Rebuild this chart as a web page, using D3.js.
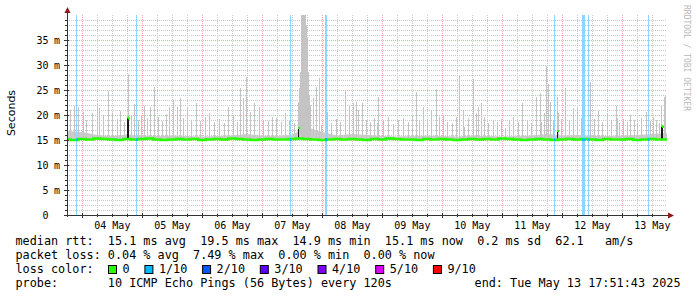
<!DOCTYPE html>
<html lang="en">
<head>
  <meta charset="utf-8">
  <title>smokeping</title>
  <script src="https://cdn.jsdelivr.net/npm/d3@7"></script>
  <style>
    body { margin: 0; background: #fff; }
    svg { display: block; }
    .mono { font-family: "DejaVu Sans Mono", monospace; }
  </style>
</head>
<body>
<svg id="chart" width="697" height="297"></svg>
<script>
  // window: 10 days ending Tue May 13 17:51:43 2025
  const startTime = new Date(2025, 4, 3, 17, 51, 43);
  const endTime = new Date(2025, 4, 13, 17, 51, 43);

  // y ticks (ms) and their labels
  const yTicks = [0, 5, 10, 15, 20, 25, 30, 35];
  const yUnits = ["", "m", "m", "m", "m", "m", "m", "m"];
  // day labels on the x axis (placed at noon)
  const dayLabels = ["04 May", "05 May", "06 May", "07 May", "08 May", "09 May", "10 May", "11 May", "12 May", "13 May"];

  // median rtt (ms), one value every 3 hours from the start
  const median = [15.1, 15.0, 15.2, 15.1, 15.3, 15.2, 15.1, 15.0, 15.2, 15.1, 15.2, 15.3, 15.1, 15.0, 15.1, 15.2,
    15.1, 15.2, 15.0, 15.1, 15.2, 15.1, 15.3, 15.2, 15.1, 15.0, 15.1, 15.2, 15.1, 15.1, 15.2, 15.3,
    15.2, 15.1, 15.0, 15.1, 15.2, 15.1, 15.2, 15.1, 15.0, 15.2, 15.1, 15.3, 15.2, 15.1, 15.1, 15.0,
    15.2, 15.1, 15.2, 15.1, 15.0, 15.1, 15.2, 15.1, 15.2, 15.1, 15.3, 15.2, 15.1, 15.0, 15.1, 15.2,
    15.1, 15.0, 15.1, 15.2, 15.1, 15.2, 15.1, 15.0, 15.2, 15.1, 15.1, 15.2, 15.0, 15.1, 15.2, 15.1, 15.1];

  // upper edge of the dense smoke (ms), one value every 6 hours
  const smokeTop = [16.8, 16.6, 16.0, 15.8, 16.1, 15.9, 15.8, 15.9, 15.8, 15.7, 15.8, 15.9, 16.2, 15.9,
    15.8, 16.1, 17.6, 16.6, 15.9, 16.2, 16.0, 15.8, 15.7, 15.8, 15.9, 15.8, 15.7, 15.9, 15.8, 15.7,
    15.8, 15.9, 16.2, 15.9, 16.0, 15.9, 15.8, 15.9, 16.0, 16.2, 16.4];

  // smoke spikes: hours from start, highest ping (ms)
  const spikeHours = [0, 1.2, 2.8, 4.4, 6.4, 7.6, 10.0, 12.0, 12.8, 14.4, 16.4, 18.0, 20.0, 21.2, 22.8, 24.4,
    25.6, 26.8, 28.4, 29.6, 30.8, 32.0, 33.2, 34.8, 36.4, 38.0, 39.6, 40.8, 42.4, 44.0, 45.2, 46.4,
    48.0, 49.6, 51.6, 53.2, 55.2, 56.8, 58.8, 60.8, 62.8, 64.4, 66.4, 68.0, 69.2, 70.4, 71.6, 73.2,
    74.8, 76.8, 78.4, 80.4, 82.0, 83.6, 85.6, 87.2, 88.8, 90.8, 92.4, 92.8, 93.2, 93.6, 94.0, 94.4,
    94.8, 95.2, 95.6, 96.0, 96.4, 96.8, 97.2, 98.4, 99.6, 100.8, 101.6, 104.0, 105.6, 107.6, 109.2, 111.2,
    112.8, 114.4, 115.6, 116.4, 118.0, 119.6, 121.2, 122.8, 124.0, 124.4, 126.4, 128.4, 130.4, 132.4, 134.4, 136.4,
    138.0, 139.6, 140.8, 142.4, 144.0, 145.6, 147.6, 148.8, 150.4, 152.0, 154.0, 155.6, 156.8, 158.4, 158.8, 160.4,
    162.4, 163.6, 164.4, 165.6, 166.8, 168.4, 170.4, 172.0, 173.6, 175.2, 176.8, 178.4, 180.4, 182.0, 184.0, 185.6,
    187.6, 189.2, 189.6, 190.8, 191.6, 192.4, 193.2, 194.4, 196.0, 196.4, 197.6, 199.2, 200.8, 202.4, 204.0, 205.6,
    206.8, 208.4, 209.2, 210.8, 212.4, 214.0, 216.0, 217.6, 219.6, 220.0, 220.8, 222.4, 224.0, 225.2, 226.8, 228.0,
    229.6, 231.6, 233.2, 234.4, 235.6, 236.8, 237.6, 238.8, 239.2];
  const spikeMax = [24.0, 21.0, 21.8, 21.6, 20.6, 19.0, 20.4, 22.4, 21.4, 19.8, 24.8, 20.5, 19.2, 20.8, 18.6, 28.2,
    20.0, 22.2, 19.0, 20.0, 21.8, 19.4, 21.6, 25.6, 19.6, 18.8, 20.2, 21.6, 23.0, 21.6, 23.4, 19.4,
    21.4, 19.0, 22.4, 18.8, 19.6, 20.4, 18.6, 19.2, 18.4, 21.6, 19.8, 18.6, 25.4, 23.4, 27.6, 20.6,
    22.4, 21.6, 19.0, 18.8, 19.6, 19.4, 18.6, 20.4, 19.0, 18.4, 22.6, 25.4, 28.6, 40.0, 40.0, 40.0,
    40.0, 40.0, 38.0, 35.4, 28.6, 24.0, 22.0, 23.4, 25.6, 27.4, 18.0, 20.6, 18.4, 19.2, 18.6, 25.0,
    21.8, 22.4, 22.6, 21.0, 22.4, 19.0, 18.6, 19.4, 18.4, 23.6, 18.8, 19.6, 18.2, 19.0, 19.4, 18.6,
    19.8, 24.6, 19.0, 21.6, 18.8, 21.0, 25.2, 19.6, 20.0, 18.6, 18.4, 19.6, 28.0, 21.0, 17.6, 19.4,
    27.2, 20.4, 21.6, 22.4, 19.6, 18.4, 19.0, 18.6, 19.2, 17.4, 18.8, 19.6, 18.6, 22.4, 19.0, 18.4,
    23.6, 24.4, 18.6, 20.4, 29.8, 26.2, 22.6, 19.0, 23.6, 20.4, 19.2, 25.4, 19.0, 21.4, 21.4, 19.4,
    26.6, 19.0, 26.6, 19.2, 20.8, 18.6, 20.4, 19.0, 21.8, 19.4, 18.4, 19.2, 18.6, 20.0, 19.0, 18.4,
    19.4, 20.6, 18.8, 19.6, 19.0, 18.4, 21.8, 23.6, 24.0];

  // samples where the median jumps (dark smoke column, green dot on top)
  const jumpHours = [24.0, 24.4, 92.4, 196.0, 237.6, 238.0];
  const jumpMax = [19.5, 19.3, 17.4, 16.8, 17.8, 17.6];

  // samples with 1/10 packet loss
  const lossHours = [3.6, 27.6, 89.2, 103.0, 103.4, 194.8, 206.0, 206.4, 206.8, 208.4, 232.4];

  const lossColors = ["#26ff00", "#00b8ff", "#0059ff", "#5e00ff", "#7e00ff", "#dd00ff", "#ff0000"];
  const lossLabels = ["0", "1/10", "2/10", "3/10", "4/10", "5/10", "9/10"];

  const svg = d3.select("#chart");
  const plotLeft = 67, plotRight = 667, plotTop = 15, plotBottom = 215;
  const pre = s => s.replace(/ /g, "\u00a0");

  const x = d3.scaleTime().domain([startTime, endTime]).range([plotLeft, plotRight]);
  const y = d3.scaleLinear().domain([0, 40]).range([plotBottom, plotTop]);
  const at = h => new Date(+startTime + h * 3600e3);
  const px = h => Math.round(x(at(h)));

  // grid
  const grid = svg.append("g");
  d3.range(1, 40).filter(v => v % 5 !== 0).forEach(v => {
    grid.append("line").attr("x1", plotLeft).attr("x2", plotRight).attr("y1", y(v) + 0.5).attr("y2", y(v) + 0.5)
      .attr("stroke", "#c8c8c8").attr("stroke-dasharray", "1,1");
  });
  d3.timeHour.every(6).range(startTime, endTime).forEach(d => {
    const major = d.getHours() === 0;
    grid.append("line").attr("x1", Math.round(x(d)) + 0.5).attr("x2", Math.round(x(d)) + 0.5)
      .attr("y1", plotTop).attr("y2", plotBottom)
      .attr("stroke", major ? "#f0a8a8" : "#c8c8c8").attr("stroke-dasharray", "1,1");
  });
  yTicks.slice(1).forEach(v => {
    grid.append("line").attr("x1", plotLeft).attr("x2", plotRight).attr("y1", y(v) + 0.5).attr("y2", y(v) + 0.5)
      .attr("stroke", "#f0a8a8").attr("stroke-dasharray", "1,1");
  });

  // smoke
  const smoke = svg.append("g");
  smoke.append("path")
    .datum(smokeTop)
    .attr("fill", "#cccccc")
    .attr("d", d3.area()
      .x((d, i) => x(at(i * 240 / (smokeTop.length - 1))))
      .y0(y(15.0))
      .y1(d => y(d)));
  smoke.selectAll(".spike")
    .data(spikeHours)
    .join("rect")
    .attr("class", "spike")
    .attr("x", px)
    .attr("width", 1)
    .attr("y", (h, i) => y(spikeMax[i]))
    .attr("height", (h, i) => y(15.1) - y(spikeMax[i]))
    .attr("fill", "#c4c4c4");

  // loss bars
  svg.append("g").selectAll("line")
    .data(lossHours)
    .join("line")
    .attr("x1", h => px(h) + 0.5)
    .attr("x2", h => px(h) + 0.5)
    .attr("y1", plotTop)
    .attr("y2", plotBottom)
    .attr("stroke", "#8cd6ff")
    .attr("stroke-width", 1);

  // dark columns where the median jumps
  svg.append("g").selectAll("rect")
    .data(jumpHours)
    .join("rect")
    .attr("x", px)
    .attr("width", 1)
    .attr("y", (h, i) => y(jumpMax[i]))
    .attr("height", (h, i) => y(15.1) - y(jumpMax[i]))
    .attr("fill", "#1a1a1a");

  // median line
  svg.append("path")
    .datum(median)
    .attr("fill", "none")
    .attr("stroke", lossColors[0])
    .attr("stroke-width", 2.5)
    .attr("d", d3.line()
      .curve(d3.curveStep)
      .x((d, i) => x(at(i * 240 / (median.length - 1))))
      .y(d => y(d)));
  svg.append("g").selectAll("rect")
    .data(jumpHours)
    .join("rect")
    .attr("x", px)
    .attr("width", 2)
    .attr("y", (h, i) => y(jumpMax[i]) - 1)
    .attr("height", 2)
    .attr("fill", lossColors[0]);
  svg.append("g").selectAll("rect")
    .data(lossHours)
    .join("rect")
    .attr("x", px)
    .attr("width", 1.5)
    .attr("y", y(15.1) - 1.2)
    .attr("height", 2.5)
    .attr("fill", lossColors[1]);

  // axes
  const axis = svg.append("g").attr("stroke", "#333").attr("shape-rendering", "crispEdges");
  axis.append("line").attr("x1", plotLeft + 0.5).attr("x2", plotLeft + 0.5).attr("y1", plotBottom + 2).attr("y2", plotTop - 4);
  axis.append("line").attr("x1", plotLeft - 2).attr("x2", plotRight + 2).attr("y1", plotBottom + 0.5).attr("y2", plotBottom + 0.5);
  d3.timeHour.every(6).range(startTime, endTime).forEach(d => {
    const xx = Math.round(x(d)) + 0.5;
    const major = d.getHours() === 0;
    axis.append("line").attr("x1", xx).attr("x2", xx).attr("y1", plotBottom - (major ? 2 : 1)).attr("y2", plotBottom + (major ? 3 : 2));
  });
  d3.range(0, 40).forEach(v => {
    const major = v % 5 === 0;
    axis.append("line").attr("x1", plotLeft - (major ? 3 : 2)).attr("x2", plotLeft + (major ? 2 : 1))
      .attr("y1", y(v) + 0.5).attr("y2", y(v) + 0.5);
  });
  svg.append("path").attr("d", `M${plotLeft - 2.5},${plotTop - 2}L${plotLeft + 3.5},${plotTop - 2}L${plotLeft + 0.5},${plotTop - 8}Z`).attr("fill", "#8b1a1a");
  svg.append("path").attr("d", `M${plotRight + 1},${plotBottom - 2.5}L${plotRight + 1},${plotBottom + 3.5}L${plotRight + 7},${plotBottom + 0.5}Z`).attr("fill", "#8b1a1a");

  // axis labels
  const labels = svg.append("g").attr("class", "mono").attr("font-size", "10px").attr("fill", "#000");
  yTicks.forEach((v, i) => {
    labels.append("text").attr("x", 48.5).attr("y", y(v) + 4).attr("text-anchor", "end").text(v);
    if (yUnits[i]) labels.append("text").attr("x", 54).attr("y", y(v) + 4).text(yUnits[i]);
  });
  dayLabels.forEach((lab, i) => {
    const noon = new Date(2025, 4, 4 + i, 12);
    labels.append("text").attr("x", x(noon)).attr("y", 229).attr("text-anchor", "middle").text(lab);
  });

  svg.append("text")
    .attr("transform", "translate(15,113) rotate(-90)")
    .attr("text-anchor", "middle")
    .attr("font-family", "DejaVu Sans, sans-serif")
    .attr("font-size", "11px")
    .text("Seconds");

  svg.append("text")
    .attr("class", "mono")
    .attr("transform", "translate(684,5) rotate(90)")
    .attr("font-size", "8px")
    .attr("fill", "#b8b8b8")
    .text("RRDTOOL / TOBI OETIKER");

  // legend
  const legend = svg.append("g").attr("class", "mono").attr("font-size", "11.8px").attr("fill", "#000");
  const rows = [
    "median rtt:  15.1 ms avg  19.5 ms max  14.9 ms min  15.1 ms now  0.2 ms sd  62.1   am/s",
    "packet loss: 0.04 % avg  7.49 % max  0.00 % min  0.00 % now",
    "loss color:",
    "probe:       10 ICMP Echo Pings (56 Bytes) every 120s"
  ];
  const rowY = [245, 259, 273, 287];
  rows.forEach((r, i) => legend.append("text").attr("x", 15.5).attr("y", rowY[i]).text(pre(r)));
  legend.append("text").attr("x", 680.5).attr("y", rowY[3]).attr("text-anchor", "end").text(pre("end: Tue May 13 17:51:43 2025"));

  let bx = 108.5;
  lossColors.forEach((c, i) => {
    legend.append("rect").attr("x", bx).attr("y", 265.5).attr("width", 8).attr("height", 8)
      .attr("fill", c).attr("stroke", "#000").attr("stroke-width", 1);
    legend.append("text").attr("x", bx + 14).attr("y", rowY[2]).text(lossLabels[i]);
    bx += 14 + lossLabels[i].length * 7.1 + 15.3;
  });
</script>
</body>
</html>
